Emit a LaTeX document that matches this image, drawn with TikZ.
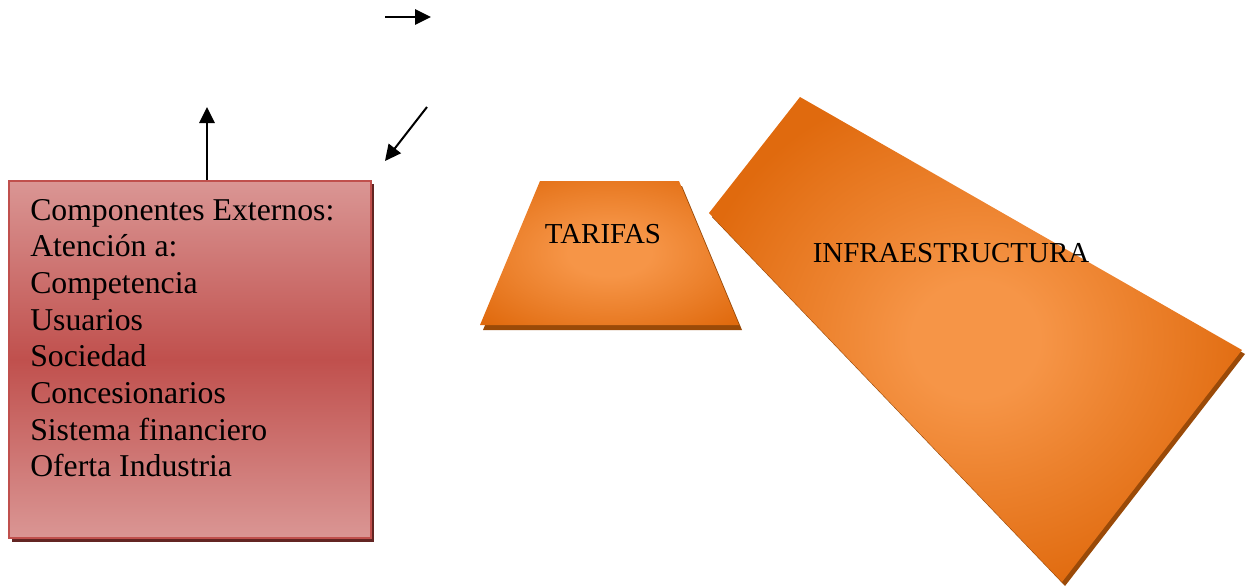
\documentclass[tikz,border=0pt]{standalone}
\usepackage{fontspec}
\setmainfont{Liberation Serif}
\usetikzlibrary{arrows.meta,shadings}
\definecolor{boxlight}{HTML}{DA9694}
\definecolor{boxmid}{HTML}{C0504D}
\definecolor{boxedge}{HTML}{C0504D}
\definecolor{boxshadow}{HTML}{632523}
\definecolor{orlight}{HTML}{F69547}
\definecolor{ordark}{HTML}{E06A0E}
\definecolor{orshadow}{HTML}{9A4A08}
\colorlet{ormid}{orlight!55!ordark}
\pgfdeclareradialshading{orangeglow}{\pgfpoint{0bp}{0bp}}{color(0bp)=(orlight); color(8bp)=(orlight); color(20bp)=(ormid); color(34bp)=(ordark); color(50bp)=(ordark)}
\pgfdeclareradialshading{orangeglowbig}{\pgfpoint{0bp}{0bp}}{color(0bp)=(orlight); color(6bp)=(orlight); color(15bp)=(ormid); color(27bp)=(ordark); color(50bp)=(ordark)}
\tikzset{
  arr/.style={line width=1.5pt, -{Triangle[length=12pt,width=11.5pt]}},
  bigtext/.style={font=\fontsize{23.8pt}{27.5pt}\selectfont},
  shapetext/.style={font=\fontsize{21.7pt}{25pt}\selectfont, inner sep=0},
}
\begin{document}
\begin{tikzpicture}[x=0.75pt,y=-0.75pt]
\useasboundingbox (0,0) rectangle (1246,586);

% external components box
\fill[boxshadow] (12,184) rectangle (374,542);
\node[draw=boxedge, line width=1.5pt, top color=boxlight, bottom color=boxlight, middle color=boxmid,
      minimum width=271.5pt, minimum height=267.75pt, anchor=north west, inner sep=0] (ext) at (8,180) {};
\node[anchor=base west, inner sep=0, bigtext] (extlist) at (30,220) {\parbox[t]{300pt}{\fontsize{23.8pt}{27.5pt}\selectfont
Componentes Externos:\\
Atención a:\\
Competencia\\
Usuarios\\
Sociedad\\
Concesionarios\\
Sistema financiero\\
Oferta Industria}};

% tarifas trapezoid
\fill[orshadow] (543,186) -- (682,186) -- (742,330) -- (483,330) -- cycle;
\shade[shading=orangeglow] (540,181) -- (679,181) -- (739,325) -- (480,325) -- cycle;
\node[shapetext, anchor=base] (tar) at (603,243) {TARIFAS};

% infraestructura quadrilateral
\fill[orshadow] (803,101) -- (1245,354) -- (1065,586) -- (712,217) -- cycle;
\shade[shading=orangeglowbig] (800,97) -- (1242,350) -- (1062,582) -- (709,213) -- cycle;
\node[shapetext, anchor=base] (inf) at (951,262) {INFRAESTRUCTURA};

% arrows
\coordinate (a1s) at (385,17);
\coordinate (a1e) at (431,17);
\draw[arr] (a1s) -- (a1e);
\coordinate (upstart) at (207,180);
\coordinate (upend) at (207,107);
\draw[arr] (upstart) -- (upend);
\coordinate (dgs) at (427,107);
\coordinate (dge) at (385,161);
\draw[arr] (dgs) -- (dge);
\end{tikzpicture}
\end{document}
